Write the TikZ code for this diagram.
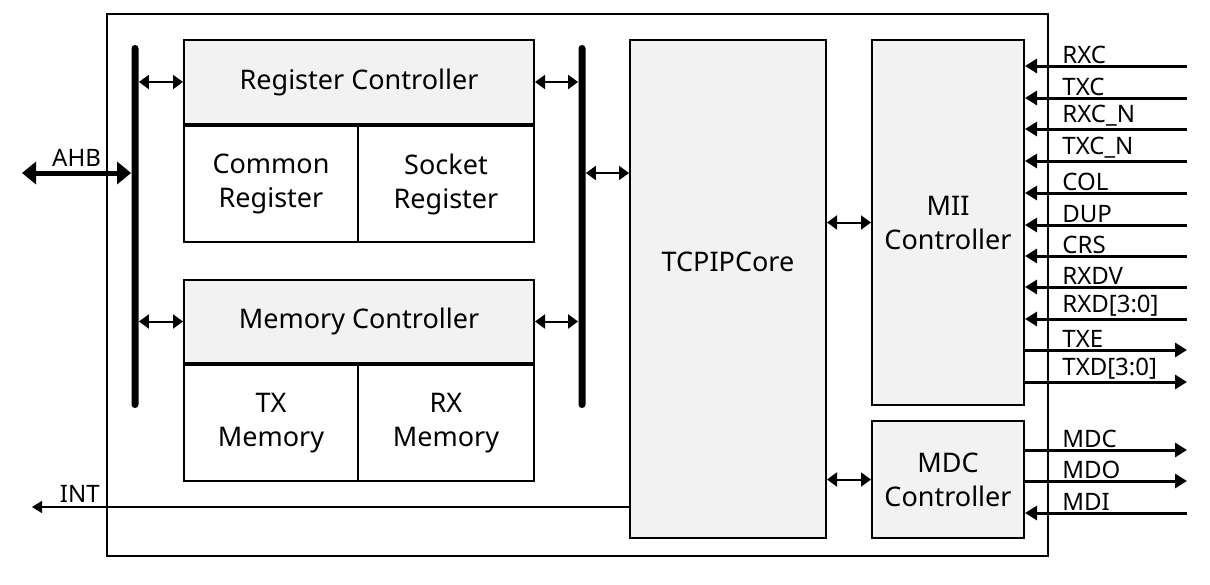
\documentclass[tikz,border=0pt]{standalone}
\usepackage{fontspec}
\setmainfont{Noto Sans}
\usepackage{tikz}
\usetikzlibrary{arrows.meta}
\definecolor{shade}{HTML}{F2F2F2}
\definecolor{ink}{HTML}{000000}
\tikzset{
  blk/.style={draw=ink,line width=1pt,fill=shade,align=center,font=\fontsize{13.5}{17}\selectfont,inner sep=0pt},
  sub/.style={draw=ink,line width=1pt,fill=white,align=center,font=\fontsize{13.5}{17}\selectfont,inner sep=0pt},
  bus/.style={fill=ink,rounded corners=1.7pt,minimum width=3.5pt,inner sep=0pt},
  dbl/.style={{Triangle[length=5pt,width=7pt]}-{Triangle[length=5pt,width=7pt]},line width=1pt},
  sigarr/.style={-{Triangle[length=6pt,width=7pt]},line width=1.5pt},
  sig/.style={font=\fontsize{12}{14}\selectfont,inner sep=1pt}}
\begin{document}
\begin{tikzpicture}[x=0.5pt,y=-0.5pt]
\useasboundingbox (0,0) rectangle (1210,584);
\node[draw=ink,line width=1pt,minimum width=470.5pt,minimum height=271pt,inner sep=0pt] (chip) at (577.5,285) {};
% buses
\node[bus,minimum height=181.5pt] (lbus) at (135,226.5) {};
\node[bus,minimum height=181.5pt] (rbus) at (582,226.5) {};
% register side
\node[blk,minimum width=175pt,minimum height=42pt] (regc) at (359,82) {Register Controller};
\node[sub,minimum width=87pt,minimum height=58pt,anchor=north west] (comreg) at (regc.south west) {Common\\Register};
\node[sub,minimum width=88pt,minimum height=58pt,anchor=north east] (sockreg) at (regc.south east) {Socket\\Register};
% memory side
\node[blk,minimum width=175pt,minimum height=41.5pt] (memc) at (359,321.5) {Memory Controller};
\node[sub,minimum width=87pt,minimum height=58pt,anchor=north west] (txmem) at (memc.south west) {TX\\Memory};
\node[sub,minimum width=88pt,minimum height=58pt,anchor=north east] (rxmem) at (memc.south east) {RX\\Memory};
% core and controllers
\node[blk,minimum width=98pt,minimum height=249pt,label={[font=\fontsize{13.5}{17}\selectfont,yshift=13.5pt]center:TCPIPCore}] (core) at (728,289) {};
\node[blk,minimum width=76pt,minimum height=182.5pt] (mii) at (948,222.5) {MII\\Controller};
\node[blk,minimum width=76pt,minimum height=58.5pt] (mdc) at (948,479.5) {MDC\\Controller};
% AHB and INT
\coordinate (ahb) at (22,173);
\draw[{Triangle[length=7pt,width=11pt]}-{Triangle[length=7pt,width=11pt]},line width=2.5pt] (ahb) -- (ahb -| lbus.west) node[pos=0.5,above=1pt,sig] {AHB};
\coordinate (int) at (32,507);
\draw[-{Triangle[length=5pt,width=6pt]},line width=0.75pt] (core.west |- int) -- (int) node[pos=0.92,above=1pt,sig] {INT};
% bus links
\draw[dbl] (lbus.east |- regc.west) -- (regc.west);
\draw[dbl] (lbus.east |- memc.west) -- (memc.west);
\draw[dbl] (regc.east) -- (regc.east -| rbus.west);
\draw[dbl] (memc.east) -- (memc.east -| rbus.west);
\draw[dbl] (rbus.east |- ahb) -- (core.west |- ahb);
\draw[dbl] (core.east |- mii.west) -- (mii.west);
\draw[dbl] (core.east |- mdc.west) -- (mdc.west);
% MII signals
\foreach \name/\y in {RXC/66,TXC/98,RXC\_N/129,TXC\_N/161,COL/193,DUP/225,CRS/256,RXDV/287,RXD[3:0]/319}{
  \coordinate (p\y) at (1187,\y);
  \draw[sigarr] (p\y) -- (p\y -| mii.east);
  \node[sig,above right] at (1060,\y) {\name};
}
\foreach \name/\y in {TXE/350,TXD[3:0]/382}{
  \coordinate (p\y) at (1187,\y);
  \draw[sigarr] (p\y -| mii.east) -- (p\y);
  \node[sig,above right] at (1060,\y) {\name};
}
% MDC signals
\foreach \name/\y in {MDC/450,MDO/481}{
  \coordinate (p\y) at (1187,\y);
  \draw[sigarr] (p\y -| mdc.east) -- (p\y);
  \node[sig,above right] at (1060,\y) {\name};
}
\coordinate (mdi) at (1187,513);
\draw[sigarr] (mdi) -- (mdi -| mdc.east);
\node[sig,above right] at (1060,513) {MDI};
\end{tikzpicture}
\end{document}
